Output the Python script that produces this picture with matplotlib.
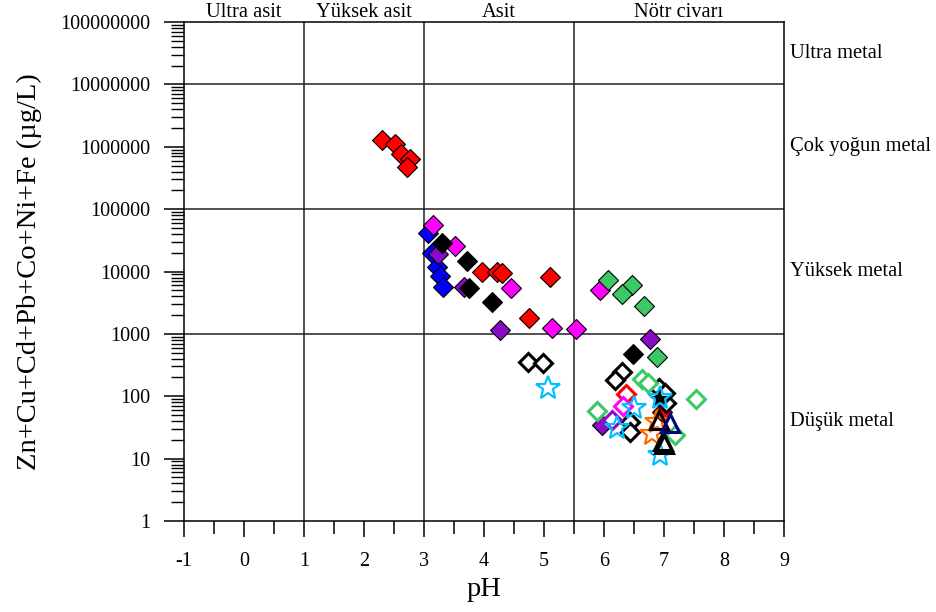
import matplotlib
matplotlib.use('Agg')
import matplotlib.pyplot as plt
from matplotlib.ticker import FixedLocator, FuncFormatter

plt.rcParams['font.family'] = ['Liberation Serif', 'DejaVu Serif']
plt.rcParams['axes.unicode_minus'] = False

# --- samples, grouped by symbol ---
red_ph = [2.30, 2.52, 2.61, 2.77, 2.72, 3.96, 4.22, 4.30, 5.10, 4.75, 6.97]
red_c = [1.28e6, 1.1e6, 7.8e5, 6.3e5, 4.8e5, 1.0e4, 9.8e3, 9.3e3, 8.1e3, 1.8e3, 55]

blue_ph = [3.07, 3.13, 3.21, 3.27, 3.32]
blue_c = [4.1e4, 1.96e4, 1.2e4, 8.5e3, 5.6e3]

mag_ph = [3.155, 3.52, 4.45, 5.14, 5.54, 5.94]
mag_c = [5.5e4, 2.6e4, 5.4e3, 1.25e3, 1.18e3, 5.1e3]

pur_ph = [3.24, 3.66, 4.27, 6.76, 5.96]
pur_c = [1.9e4, 5.6e3, 1.15e3, 815, 35]

blk_ph = [3.30, 3.71, 3.75, 4.14, 6.48]
blk_c = [2.9e4, 1.5e4, 5.4e3, 3.2e3, 470]

grn_ph = [6.07, 6.46, 6.30, 6.67, 6.89]
grn_c = [7.3e3, 6.0e3, 4.3e3, 2.8e3, 430]

oblk_ph = [4.74, 4.99, 6.30, 6.18, 6.91, 7.04, 7.02, 6.43, 6.43]
oblk_c = [357, 345, 247, 182, 134, 77, 111, 39, 27]

ogrn_ph = [6.63, 6.74, 7.54, 5.88, 7.19]
ogrn_c = [186, 162, 91, 58, 24]

ored_ph, ored_c = [6.36], [108]
omag_ph, omag_c = [6.32], [70]
opur_ph, opur_c = [6.13], [42]

star_ph = [5.06, 6.50, 6.22, 6.93, 6.93]
star_c = [137, 64, 31, 93, 11.5]

bstar_ph, bstar_c = [6.92], [90]

orange_ph = [6.80, 6.88]
orange_c = [25, 39]

tri_ph = [6.91, 6.98, 7.00]
tri_c = [41, 19.5, 17]

navy_ph, navy_c = [7.10], [37]

ph_edges = [1, 3, 5.5]
c_edges = [1e3, 1e5, 1e7]

ph_zones = ['Ultra asit', 'Yüksek asit', 'Asit', 'Nötr civarı']
ph_zone_x = [0, 2, 4.25, 7.25]
metal_zones = ['Ultra metal', 'Çok yoğun metal', 'Yüksek metal', 'Düşük metal']
metal_zone_y = [10**7.5, 1e6, 1e4, 10**1.6]

GREEN = '#3cc864'
PURPLE = '#8a0ac8'
CYAN = '#00c0ff'
ORANGE = '#ff6a00'

fig = plt.figure(figsize=(9.36, 6.12), dpi=100)
ax = fig.add_axes([0.1966, 0.1487, 0.6410, 0.8153])
ax.set_yscale('log')
ax.set_xlim(-1, 9)
ax.set_ylim(1, 1e8)

# class boundaries
for x in ph_edges:
    ax.axvline(x, color='#222222', lw=1.1, zorder=1)
for y in c_edges:
    ax.axhline(y, color='#222222', lw=1.1, zorder=1)

def filled(xs, ys, col):
    ax.plot(xs, ys, 'D', ms=10.5, mfc=col, mec='black', mew=0.8, ls='none', zorder=3)

def hollow(xs, ys, col):
    ax.plot(xs, ys, 'D', ms=9, mfc='white', mec=col, mew=2.2, ls='none', zorder=4)

filled(red_ph, red_c, 'red')
filled(blue_ph, blue_c, 'blue')
filled(mag_ph, mag_c, 'magenta')
filled(pur_ph, pur_c, PURPLE)
filled(blk_ph, blk_c, 'black')
filled(grn_ph, grn_c, GREEN)

hollow(oblk_ph, oblk_c, 'black')
hollow(ogrn_ph, ogrn_c, GREEN)
hollow(ored_ph, ored_c, 'red')
hollow(omag_ph, omag_c, 'magenta')
hollow(opur_ph, opur_c, PURPLE)

ax.plot(bstar_ph, bstar_c, '*', ms=13, mfc='black', mec='black', ls='none', zorder=5)
ax.plot(star_ph, star_c, '*', ms=18, mfc='none', mec=CYAN, mew=1.6, ls='none', zorder=5)
ax.plot(orange_ph, orange_c, '*', ms=18, mfc='none', mec=ORANGE, mew=1.6, ls='none', zorder=5)
ax.plot(tri_ph, tri_c, '^', ms=13, mfc='none', mec='black', mew=2.2, ls='none', zorder=6)
ax.plot(navy_ph, navy_c, '^', ms=13, mfc='none', mec='navy', mew=2.2, ls='none', zorder=6)

# axes styling
for s in ax.spines.values():
    s.set_linewidth(1.1)

decades = [10**k for k in range(9)]
ax.xaxis.set_major_locator(FixedLocator(range(-1, 10)))
ax.xaxis.set_minor_locator(FixedLocator([v + 0.5 for v in range(-1, 9)]))
ax.yaxis.set_major_locator(FixedLocator(decades))
ax.yaxis.set_minor_locator(FixedLocator([m * d for d in decades[:-1] for m in range(2, 10)]))
ax.yaxis.set_major_formatter(FuncFormatter(lambda v, pos: '%d' % round(v)))

ax.set_xlabel('pH', fontsize=20.5, labelpad=4)

for name, x in zip(ph_zones, ph_zone_x):
    ax.text(x, 1.012e8, name, ha='center', va='bottom', fontsize=14.8)
for name, y in zip(metal_zones, metal_zone_y):
    ax.text(9.1, y, name, ha='left', va='center', fontsize=14.8, clip_on=False)

ax.tick_params(axis='y', which='major', direction='out', length=14.5, width=1.1, pad=10, labelsize=14.5)
ax.tick_params(axis='y', which='minor', direction='out', length=9.5, width=1.0)
ax.tick_params(axis='x', which='major', direction='out', length=11.5, width=1.1, pad=11, labelsize=14.5)
ax.tick_params(axis='x', which='minor', direction='out', length=9.5, width=1.1)

ax.set_ylabel('Zn+Cu+Cd+Pb+Co+Ni+Fe (µg/L)', fontsize=20.5, labelpad=13)

fig.savefig('out.png', dpi=100)
